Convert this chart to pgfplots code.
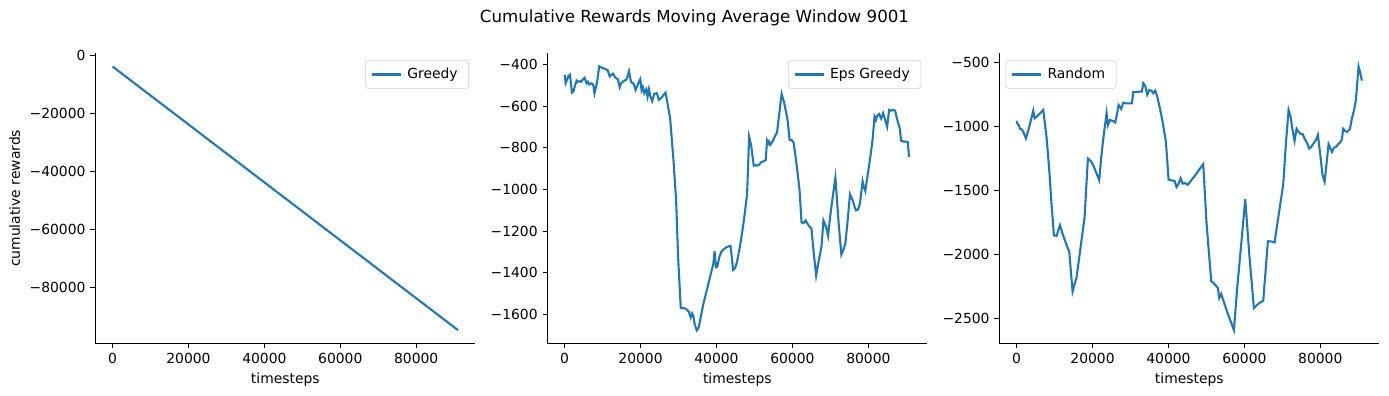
\documentclass[border=0pt]{standalone}
\usepackage{fontspec}
\setmainfont{DejaVu Sans}
\usepackage{pgfplots}
\pgfplotsset{compat=1.18}
\definecolor{c0}{HTML}{1F77B4}
\pgfplotsset{
  myax/.style={
    scale only axis, width=273.6pt, height=208.8pt, anchor=north west,
    axis x line*=bottom, axis y line*=left,
    axis line style={-, line width=0.8pt, black},
    tick align=outside, major tick length=3.5pt,
    tick style={black, line width=0.8pt},
    xtick pos=bottom, ytick pos=left,
    /pgf/number format/assume math mode=true,
    tick label style={font=\fontsize{10}{12}\selectfont},
    label style={font=\fontsize{10}{12}\selectfont},
    xmin=-4550, xmax=95550,
    xtick={0,20000,40000,60000,80000},
    xticklabels={0,20000,40000,60000,80000},
    scaled ticks=false,
    xlabel={timesteps},
    legend cell align=left,
    legend style={font=\fontsize{10}{12}\selectfont, draw=black!20, rounded corners=2pt, inner xsep=4pt, inner ysep=3.5pt,
      nodes={inner xsep=4pt}},
    legend image code/.code={\draw[#1] (0pt,0pt) -- (20.5pt,0pt);},
  },
  legNE/.style={legend style={at={(1,1)}, anchor=north east, xshift=-4.5pt, yshift=-5pt}},
  legNW/.style={legend style={at={(0,1)}, anchor=north west, xshift=4.5pt, yshift=-5pt}},
}
\begin{document}
\begin{tikzpicture}
\path[use as bounding box] (0pt,0pt) rectangle (1000.08pt,-285.12pt);
\node at (500pt,-13pt) {\fontsize{12}{14}\selectfont Cumulative Rewards Moving Average Window 9001};

\begin{axis}[myax, legNE, at={(68.6pt,-38.4pt)},
  ymin=-99345, ymax=645,
  ytick={0,-20000,-40000,-60000,-80000},
  yticklabels={0,−20000,−40000,−60000,−80000},
  ylabel={cumulative rewards}]
\addplot[c0, line width=1.5pt] coordinates {(0,-3900) (91000,-94800)};
\addlegendentry{Greedy}
\end{axis}

\begin{axis}[myax, legNE, at={(394.1pt,-38.4pt)},
  ymin=-1740, ymax=-345,
  ytick={-1600,-1400,-1200,-1000,-800,-600,-400},
  yticklabels={−1600,−1400,−1200,−1000,−800,−600,−400}]
\addplot[c0, line width=1.5pt] coordinates {
(0,-448) (262,-489) (699,-469) (1049,-453) (1398,-448) (1923,-534) (2272,-529)
(3146,-476) (3496,-482) (4020,-479) (4370,-482) (4720,-472) (5244,-463) (5768,-489)
(6118,-482) (6468,-495) (6992,-489) (7516,-495) (7866,-537) (8565,-482) (9090,-408)
(9789,-414) (10838,-421) (11362,-427) (11886,-456) (12236,-450) (12760,-443) (13285,-460)
(13984,-469) (14508,-508) (14858,-489) (15732,-476) (16256,-472) (16606,-453) (16956,-431)
(17480,-482) (18179,-492) (18704,-521) (19403,-489) (19927,-469) (20277,-524) (20626,-508)
(20976,-537) (21500,-518) (21850,-553) (22200,-518) (22549,-550) (23074,-575) (23598,-540)
(24297,-537) (24821,-569) (25346,-561) (26570,-534) (27094,-585) (27793,-658) (28667,-859)
(29366,-1052) (29891,-1326) (30590,-1570) (31114,-1570) (31988,-1574) (32688,-1587)
(33212,-1616) (33562,-1596) (33911,-1609) (34261,-1648) (34785,-1677) (35310,-1664)
(35834,-1616) (36533,-1551) (37407,-1487) (38281,-1422) (39155,-1358) (39505,-1297)
(39854,-1374) (40204,-1371) (40728,-1326) (41253,-1300) (41952,-1287) (42651,-1277)
(43700,-1271) (44399,-1387) (44924,-1377) (45448,-1345) (46147,-1277) (46846,-1197)
(47371,-1126) (48070,-1020) (48594,-746) (49119,-786) (49818,-886) (50168,-883)
(50692,-885) (51216,-881) (51741,-869) (52440,-864) (52964,-859) (53314,-765) (53664,-778)
(53838,-770) (54188,-785) (54538,-775) (54887,-765) (55412,-743) (55936,-727) (57160,-540)
(57859,-585) (58733,-666) (59257,-762) (59782,-762) (60306,-775) (60656,-819) (61180,-891)
(61879,-1004) (62404,-1158) (62928,-1162) (63452,-1149) (63977,-1165) (64326,-1174)
(65026,-1189) (65550,-1294) (66249,-1414) (66774,-1358) (67648,-1277) (68172,-1149)
(68871,-1181) (69396,-1223) (69920,-1133) (70619,-1036) (71318,-943) (72192,-1165)
(72892,-1313) (73416,-1290) (73940,-1261) (74465,-1165) (75164,-1023) (75863,-1052)
(76388,-1084) (76737,-1100) (77262,-1097) (77786,-1068) (78485,-960) (78835,-988)
(79184,-1007) (79884,-923) (80583,-836) (81107,-762) (81632,-650) (81981,-666) (82331,-646)
(82855,-637) (83380,-659) (83904,-633) (84428,-666) (84953,-698) (85477,-617) (86002,-621)
(86526,-617) (87050,-621) (87750,-674) (88274,-706) (88624,-765) (89148,-769) (89672,-769)
(90372,-772) (90721,-843)};
\addlegendentry{Eps Greedy}
\end{axis}

\begin{axis}[myax, legNW, at={(719.5pt,-38.4pt)},
  ymin=-2694, ymax=-431,
  ytick={-2500,-2000,-1500,-1000,-500},
  yticklabels={−2500,−2000,−1500,−1000,−500}]
\addplot[c0, line width=1.5pt] coordinates {
(0,-957) (176,-978) (702,-999) (878,-1020) (1405,-1025) (1932,-1056) (2458,-1095)
(3161,-1025) (3863,-941) (4390,-879) (4741,-939) (5268,-926) (5970,-905) (7024,-873)
(7902,-1087) (8604,-1343) (9131,-1578) (9834,-1852) (10536,-1855) (11414,-1772)
(12116,-1839) (12994,-1913) (13872,-1980) (14750,-2289) (15277,-2231) (15804,-2179)
(16506,-2022) (17209,-1866) (17911,-1709) (18789,-1252) (19492,-1270) (20194,-1304)
(21072,-1369) (21774,-1422) (22301,-1239) (23004,-1056) (23706,-899) (24057,-991)
(24584,-952) (25286,-957) (25988,-970) (26515,-894) (26866,-834) (27569,-863) (28096,-816)
(28798,-821) (29500,-821) (30378,-821) (30730,-732) (31608,-732) (32486,-730) (33013,-730)
(33364,-664) (33890,-685) (34418,-753) (34944,-717) (35471,-722) (35998,-743) (36524,-722)
(37052,-769) (37754,-860) (38456,-965) (39334,-1121) (40037,-1416) (40739,-1422)
(41617,-1427) (42144,-1474) (42670,-1448) (43198,-1406) (43724,-1448) (44251,-1443)
(45129,-1456) (46007,-1422) (47061,-1383) (48114,-1338) (49168,-1296) (50046,-1761)
(51275,-2210) (51802,-2221) (53031,-2262) (53382,-2341) (53909,-2309) (54787,-2388)
(55665,-2466) (56543,-2534) (57246,-2591) (58124,-2257) (59177,-1918) (60231,-1570)
(61284,-1996) (62514,-2419) (63392,-2393) (64094,-2377) (64972,-2362) (66201,-1897)
(67079,-1899) (67957,-1907) (69011,-1696) (70240,-1453) (70942,-1134) (71645,-873)
(72172,-926) (72698,-1030) (73225,-1114) (73752,-1020) (74279,-1043) (74806,-1061)
(75332,-1061) (75859,-1095) (76562,-1134) (77088,-1174) (77615,-1161) (78318,-1129)
(78844,-1108) (79371,-1067) (80074,-1244) (80600,-1383) (81127,-1432) (81654,-1291)
(82181,-1140) (82708,-1174) (83059,-1200) (83586,-1168) (84112,-1161) (84639,-1142)
(85166,-1129) (85693,-1103) (86044,-1020) (86570,-1038) (87098,-1043) (87800,-1022)
(88327,-939) (88854,-879) (89380,-795) (89732,-664) (90083,-534) (90434,-573) (90960,-644)};
\addlegendentry{Random}
\end{axis}
\end{tikzpicture}
\end{document}
